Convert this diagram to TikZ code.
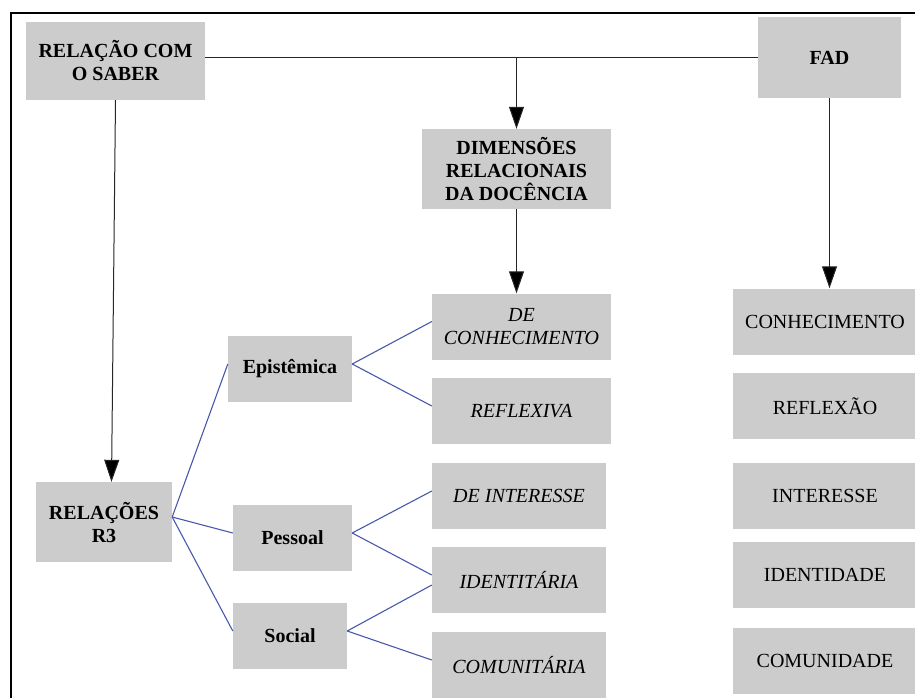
\documentclass[tikz,border=0pt]{standalone}
\usepackage{fontspec}
\setmainfont{Liberation Serif}
\usetikzlibrary{arrows.meta}
\definecolor{caixacinza}{RGB}{204,204,204}
\definecolor{ramoazul}{RGB}{72,88,172}

\begin{document}
\begin{tikzpicture}[x=1pt, y=-1pt,
        caixa/.style={fill=caixacinza, inner sep=0pt, align=center, font=\fontsize{20}{23}\selectfont},
        seta/.style={draw=black!85, line width=1pt, -{Triangle[length=22pt,width=15pt,fill=black]}},
        ramo/.style={draw=ramoazul, line width=1.1pt}]
    \useasboundingbox (0,0) rectangle (915,697);
    \begin{scope}
        \clip (0,0) rectangle (915,697);
        % moldura
        \draw[line width=2pt] (11,13) rectangle (940,720);

        % caixas principais
        \node[caixa, font=\fontsize{20}{23}\selectfont\bfseries, minimum width=179, minimum height=78] (saber) at (115.5,61) {RELAÇÃO COM\\O SABER};
        \node[caixa, font=\fontsize{20}{23}\selectfont\bfseries, minimum width=143, minimum height=81] (fad) at (829.5,57.5) {FAD};
        \node[caixa, font=\fontsize{20}{23}\selectfont\bfseries, minimum width=189, minimum height=80] (dim) at (516.5,169) {DIMENSÕES\\RELACIONAIS\\DA DOCÊNCIA};
        \node[caixa, font=\fontsize{20}{23}\selectfont\bfseries, minimum width=136, minimum height=80] (rel) at (104,522) {RELAÇÕES\\R3};

        % relacoes R3
        \foreach \nome/\xpos/\ypos/\largura/\texto in {epi/290/369/124/Epistêmica, pes/292.5/538/119/Pessoal, soc/290/636/114/Social}
            \node[caixa, font=\fontsize{20}{23}\selectfont\bfseries, minimum width=\largura, minimum height=66] (\nome) at (\xpos,\ypos) {\texto};

        % dimensoes relacionais
        \foreach \nome/\xpos/\ypos/\largura/\texto in {c1/521.5/326.5/179/{DE\\CONHECIMENTO}, c2/521.5/411/179/REFLEXIVA, c3/519/496/174/DE INTERESSE, c4/519/580/174/IDENTITÁRIA, c5/519/665/174/COMUNITÁRIA}
            \node[caixa, font=\fontsize{20}{23}\selectfont\itshape, minimum width=\largura, minimum height=66] (\nome) at (\xpos,\ypos) {\texto};

        % FAD
        \foreach \nome/\ypos/\texto in {k1/321.5/CONHECIMENTO, k2/406/REFLEXÃO, k3/496/INTERESSE, k4/575/IDENTIDADE, k5/660.5/COMUNIDADE}
            \node[caixa, minimum width=184, minimum height=66] (\nome) at (825,\ypos) {\texto};

        % setas
        \draw[draw=black!85, line width=1pt] (saber.east |- fad.west) -- (fad.west);
        \draw[seta] (dim.north |- fad.west) -- (dim.north);
        \draw[seta] (dim.south) -- (dim.south |- c1.north);
        \draw[seta] (fad.south) -- (fad.south |- k1.north);
        \draw[seta] (saber.south) -- ([xshift=-4pt]saber.south |- rel.north);

        % ramos
        \foreach \de/\para in {rel/epi, rel/pes, rel/soc, epi/c1, epi/c2, pes/c3, pes/c4, soc/c5}
            \draw[ramo] ([yshift=5pt]\de.east) -- ([yshift=5pt]\para.west);
        \draw[ramo] ([yshift=5pt]soc.east) -- ([yshift=-5pt]c4.west);
    \end{scope}
\end{tikzpicture}
\end{document}
